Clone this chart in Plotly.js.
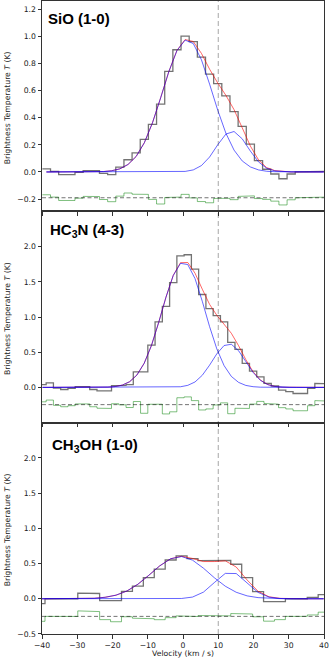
<!DOCTYPE html>
<html><head><meta charset="utf-8">
<script src="https://cdn.plot.ly/plotly-3.0.1.min.js"></script>
<style>html,body{margin:0;padding:0;background:#fff;}#chart{width:331px;height:660px;}</style>
</head><body><div id="chart"></div>
<script>
// ---------- data ----------
const xTicks = [-40, -30, -20, -10, 0, 10, 20, 30, 40];
const refVelocity = 10;

const labelSiO = 'SiO (1-0)';
const velSiO = [-38.74, -36.43, -34.11, -31.80, -29.48, -27.17, -24.86, -22.54, -20.23, -17.91, -15.60, -13.29, -10.97, -8.66, -6.34, -4.03, -1.72, 0.60, 2.91, 5.23, 7.54, 9.85, 12.17, 14.48, 16.80, 19.11, 21.42, 23.74, 26.05, 28.37, 30.68, 32.99, 35.31, 37.62, 39.94];
const dataSiO = [0.022, 0.005, -0.02, -0.02, -0.003, 0.01, 0.01, -0.01, -0.02, 0.035, 0.09, 0.14, 0.24, 0.35, 0.50, 0.74, 0.90, 1.00, 0.96, 0.845, 0.72, 0.65, 0.56, 0.445, 0.335, 0.205, 0.083, 0.02, -0.015, -0.05, -0.015, 0.0, 0.0, 0.0, 0.005];
const fit1SiO = [0, 0, 0, 0, 0, 0, 0.001, 0.003, 0.009, 0.023, 0.055, 0.114, 0.215, 0.362, 0.546, 0.738, 0.894, 0.971, 0.946, 0.826, 0.647, 0.455, 0.285, 0.161, 0.081, 0.037, 0.015, 0.005, 0.002, 0.001, 0, 0, 0, 0, 0];
const fit2SiO = [0, 0, 0, 0, 0, 0, 0, 0, 0, 0, 0, 0, 0, 0, 0, 0, 0.001, 0.004, 0.015, 0.047, 0.110, 0.200, 0.279, 0.298, 0.244, 0.154, 0.074, 0.027, 0.008, 0.002, 0, 0, 0, 0, 0];
const offsetSiO = -0.19;
const ticksSiO = [-0.2, 0.0, 0.2, 0.4, 0.6, 0.8, 1.0, 1.2];
const rangeSiO = [-0.291, 1.259];

const labelHC3N = 'HC<sub>3</sub>N (4-3)';
const velHC3N = [-39.85, -37.79, -35.73, -33.67, -31.61, -29.55, -27.49, -25.43, -23.37, -21.31, -19.25, -17.19, -15.13, -13.07, -11.01, -8.95, -6.89, -4.83, -2.77, -0.71, 1.35, 3.41, 5.47, 7.53, 9.59, 11.65, 13.71, 15.77, 17.83, 19.89, 21.95, 24.01, 26.07, 28.13, 30.19, 32.25, 34.31, 36.37, 38.43, 40.49];
const dataHC3N = [0.04, 0.065, -0.01, -0.03, -0.015, 0.01, 0.01, -0.03, -0.05, -0.05, 0.025, 0.03, 0.04, 0.22, 0.22, 0.60, 0.93, 1.15, 1.49, 1.87, 1.885, 1.68, 1.32, 1.12, 1.02, 0.93, 0.64, 0.54, 0.34, 0.23, 0.15, 0.057, 0.02, -0.04, -0.06, -0.087, -0.087, -0.015, 0.057, 0.05];
const fit1HC3N = [0, 0, 0, 0, 0, 0, 0, 0, 0.001, 0.004, 0.012, 0.033, 0.081, 0.176, 0.343, 0.595, 0.924, 1.282, 1.590, 1.763, 1.746, 1.546, 1.224, 0.866, 0.548, 0.310, 0.156, 0.071, 0.028, 0.010, 0.003, 0.001, 0, 0, 0, 0, 0, 0, 0, 0];
const fit2HC3N = [0, 0, 0, 0, 0, 0, 0, 0, 0, 0, 0, 0, 0, 0, 0, 0, 0, 0, 0.002, 0.009, 0.029, 0.077, 0.172, 0.315, 0.477, 0.595, 0.613, 0.521, 0.366, 0.212, 0.101, 0.040, 0.013, 0.003, 0.001, 0, 0, 0, 0, 0];
const offsetHC3N = -0.245;
const ticksHC3N = [0.0, 0.5, 1.0, 1.5, 2.0];

const labelCH3OH = 'CH<sub>3</sub>OH (1-0)';
const velCH3OH = [-40.7, -37.6, -34.5, -31.4, -28.3, -25.2, -22.1, -19.0, -15.9, -12.8, -9.7, -6.6, -3.5, -0.4, 2.7, 5.8, 8.9, 12.0, 15.1, 18.2, 21.3, 24.4, 27.5, 30.6, 33.7, 36.8, 39.9];
const dataCH3OH = [-0.07, 0.0, -0.005, 0.0, 0.08, 0.075, -0.025, -0.025, 0.105, 0.18, 0.30, 0.42, 0.55, 0.61, 0.57, 0.54, 0.545, 0.545, 0.49, 0.30, 0.10, -0.04, -0.04, 0.0, 0.0, 0.02, 0.06];
const fit1CH3OH = [0, 0, 0, 0.001, 0.002, 0.007, 0.021, 0.051, 0.110, 0.206, 0.333, 0.467, 0.568, 0.599, 0.548, 0.434, 0.298, 0.178, 0.092, 0.041, 0.016, 0.005, 0.002, 0, 0, 0, 0];
const fit2CH3OH = [0, 0, 0, 0, 0, 0, 0, 0, 0, 0, 0, 0, 0, 0.004, 0.024, 0.094, 0.230, 0.360, 0.358, 0.225, 0.090, 0.023, 0.004, 0, 0, 0, 0];
const offsetCH3OH = -0.25;
const ticksCH3OH = [-0.5, 0.0, 0.5, 1.0, 1.5, 2.0];
const rangeLow = [-0.5, 2.5];

// ---------- helpers ----------
function steps(v, y) {
  const xs = [], ys = [];
  for (let i = 0; i < v.length; i++) {
    const l = i === 0 ? v[0] - (v[1] - v[0]) / 2 : (v[i - 1] + v[i]) / 2;
    const r = i === v.length - 1 ? v[i] + (v[i] - v[i - 1]) / 2 : (v[i] + v[i + 1]) / 2;
    xs.push(l, r); ys.push(y[i], y[i]);
  }
  return { xs, ys };
}

const panels = [
  { label: labelSiO, v: velSiO, d: dataSiO, f1: fit1SiO, f2: fit2SiO, off: offsetSiO, ticks: ticksSiO, range: rangeSiO, dom: [0.6675, 1], xa: 'x', ya: 'y', lx: 4, ly: -7 },
  { label: labelHC3N, v: velHC3N, d: dataHC3N, f1: fit1HC3N, f2: fit2HC3N, off: offsetHC3N, ticks: ticksHC3N, range: rangeLow, dom: [0.334, 0.6675], xa: 'x2', ya: 'y2', lx: 6, ly: -7.5 },
  { label: labelCH3OH, v: velCH3OH, d: dataCH3OH, f1: fit1CH3OH, f2: fit2CH3OH, off: offsetCH3OH, ticks: ticksCH3OH, range: rangeLow, dom: [0, 0.334], xa: 'x3', ya: 'y3', lx: 8, ly: -11 }
];

const cData = 'rgba(0,0,0,0.55)';
const cTot = 'rgba(255,0,0,0.6)';
const cComp = 'rgba(0,0,255,0.6)';
const cRes = 'rgba(0,128,0,0.5)';

const traces = [];
const shapes = [];
const annotations = [];
const layout = {
  width: 331, height: 660,
  margin: { l: 42, r: 7, t: 1, b: 26 },
  paper_bgcolor: '#fff', plot_bgcolor: '#fff',
  showlegend: false,
  font: { family: 'DejaVu Sans', size: 7.7, color: '#222' }
};

const axisCommon = {
  showgrid: false, zeroline: false, showline: true, mirror: true,
  linecolor: '#333', linewidth: 1, ticks: 'outside', ticklen: 3.5, tickwidth: 1, tickcolor: '#333',
  tickfont: { family: 'DejaVu Sans', size: 7.7, color: '#222' }
};

panels.forEach((p, idx) => {
  const tot = p.f1.map((a, i) => a + p.f2[i]);
  const res = p.d.map((a, i) => a - tot[i] + p.off);
  const sd = steps(p.v, p.d);
  const sr = steps(p.v, res);
  traces.push({ x: sd.xs, y: sd.ys, xaxis: p.xa, yaxis: p.ya, mode: 'lines', line: { color: cData, width: 1.3 }, hoverinfo: 'skip' });
  traces.push({ x: p.v, y: tot, xaxis: p.xa, yaxis: p.ya, mode: 'lines', line: { color: cTot, width: 1 }, hoverinfo: 'skip' });
  traces.push({ x: p.v, y: p.f1, xaxis: p.xa, yaxis: p.ya, mode: 'lines', line: { color: cComp, width: 1 }, hoverinfo: 'skip' });
  traces.push({ x: p.v, y: p.f2, xaxis: p.xa, yaxis: p.ya, mode: 'lines', line: { color: cComp, width: 1 }, hoverinfo: 'skip' });
  traces.push({ x: sr.xs, y: sr.ys, xaxis: p.xa, yaxis: p.ya, mode: 'lines', line: { color: cRes, width: 1 }, hoverinfo: 'skip' });

  const xk = idx === 0 ? 'xaxis' : 'xaxis' + (idx + 1);
  const yk = idx === 0 ? 'yaxis' : 'yaxis' + (idx + 1);
  layout[xk] = Object.assign({}, axisCommon, {
    range: [-40, 40], domain: [0, 1], anchor: p.ya, tickvals: xTicks,
    showticklabels: idx === 2
  });
  layout[yk] = Object.assign({}, axisCommon, {
    range: p.range, domain: p.dom, anchor: p.xa, tickvals: p.ticks, tickformat: '.1f'
  });

  shapes.push({ type: 'line', xref: p.xa + ' domain', yref: p.ya, x0: 0, x1: 1, y0: p.off, y1: p.off,
    line: { color: 'rgba(0,0,0,0.55)', width: 1, dash: '4px,2.5px' } });

  annotations.push({ text: 'Brightness Temperature <i>T</i> (K)', xref: 'paper', x: 0, xshift: -35, xanchor: 'center',
    yref: p.ya + ' domain', y: 0.5, yshift: -2, yanchor: 'middle', textangle: -90, showarrow: false,
    font: { family: 'DejaVu Sans', size: 7.7, color: '#222' } });
  annotations.push({ text: '<b>' + p.label + '</b>', xref: p.xa + ' domain', x: 0, xanchor: 'left', xshift: p.lx,
    yref: p.ya + ' domain', y: 1, yanchor: 'top', yshift: p.ly, showarrow: false,
    font: { family: 'Liberation Sans, Arial, sans-serif', size: 15, color: '#000' } });
});

shapes.push({ type: 'line', xref: 'x3', yref: 'paper', x0: refVelocity, x1: refVelocity, y0: 0, y1: 1,
  line: { color: 'rgba(0,0,0,0.35)', width: 1, dash: '5px,3px' } });

annotations.push({ text: 'Velocity (km / s)', xref: 'paper', x: 0.5, xanchor: 'center', yref: 'paper', y: 0, yshift: -19,
  yanchor: 'middle', showarrow: false, font: { family: 'DejaVu Sans', size: 7.7, color: '#222' } });

layout.shapes = shapes;
layout.annotations = annotations;

Plotly.newPlot('chart', traces, layout, { staticPlot: true, displayModeBar: false });
</script>
</body></html>
